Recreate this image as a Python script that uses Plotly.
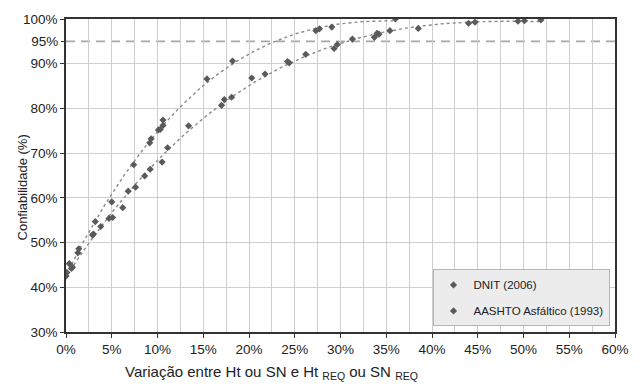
import numpy as np
import plotly.graph_objects as go

# ---- data ----
dnit_x = [0.0, 0.36, 1.4, 3.2, 5.0, 7.4, 9.15, 9.3, 10.1, 10.3, 10.6, 10.6,
          15.4, 18.2, 27.3, 27.7, 29.05, 36.0]
dnit_y = [42.5, 45.3, 48.6, 54.7, 59.1, 67.4, 72.3, 73.2, 75.2, 75.3, 76.2, 77.4,
          86.6, 90.6, 97.4, 97.8, 98.2, 100.0]

aashto_x = [0.1, 0.6, 0.7, 1.3, 2.9, 3.0, 3.8, 4.7, 5.1, 6.2, 6.8, 7.6, 8.6, 9.2,
            10.5, 11.1, 13.4, 17.0, 17.3, 18.1, 20.3, 21.75, 24.2, 24.4, 26.2,
            29.3, 29.65, 31.3, 33.7, 34.0, 34.2, 35.4, 38.5, 44.0, 44.7, 49.4,
            50.1, 51.9]
aashto_y = [43.3, 44.2, 44.5, 47.7, 51.7, 51.9, 53.6, 55.4, 55.6, 57.8, 61.5, 62.4,
            64.9, 66.4, 68.0, 71.2, 76.1, 80.7, 82.0, 82.5, 86.8, 87.7, 90.5, 90.2,
            92.1, 93.4, 94.3, 95.5, 95.9, 96.8, 96.6, 97.4, 97.9, 99.05, 99.3,
            99.5, 99.6, 99.8]

series_names = ["DNIT (2006)", "AASHTO Asfáltico (1993)"]
threshold = 95
y_ticks = [30, 40, 50, 60, 70, 80, 90, 100]
x_ticks = list(range(0, 61, 5))

# ---- style ----
FONT = "Liberation Sans, Arial, sans-serif"
marker_col = "#5a5a5a"
trend_col = "#8a8a8a"
grid_col = "#cfcfcf"
axis_col = "#333333"

fig = go.Figure()


def trend(xs, ys, deg):
    c = np.polyfit(xs, ys, deg)
    xx = np.linspace(min(xs), max(xs), 200)
    return xx, np.polyval(c, xx)


for xs, ys in [(dnit_x, dnit_y), (aashto_x, aashto_y)]:
    tx, ty = trend(xs, ys, 3)
    fig.add_trace(go.Scatter(x=tx, y=ty, mode="lines", showlegend=False,
                             hoverinfo="skip",
                             line=dict(color=trend_col, width=1.4, dash="dot")))

for i, (xs, ys) in enumerate([(dnit_x, dnit_y), (aashto_x, aashto_y)]):
    fig.add_trace(go.Scatter(x=xs, y=ys, mode="markers", name=series_names[i],
                             legendgroup=str(i),
                             marker=dict(symbol="diamond", size=5.5, color=marker_col)))

fig.add_shape(type="line", xref="paper", x0=0, x1=1, yref="y", y0=threshold, y1=threshold,
              line=dict(color="#a8a8a8", width=1.6, dash="9px,6px"), layer="below")

fig.update_layout(
    width=641, height=384,
    margin=dict(l=66, r=24, t=14, b=52),
    paper_bgcolor="white", plot_bgcolor="white",
    font=dict(family=FONT, size=13, color="#222"),
    xaxis=dict(range=[0, 60], tickvals=x_ticks, ticktext=[f"{v}%" for v in x_ticks],
               showline=True, linecolor=axis_col, linewidth=1.5, mirror=True,
               ticks="outside", ticklen=4, tickcolor=axis_col,
               showgrid=True, gridcolor=grid_col, gridwidth=1,
               minor=dict(dtick=2.5, showgrid=True, gridcolor=grid_col, gridwidth=1),
               zeroline=False, tickfont=dict(size=13.5)),
    yaxis=dict(range=[30, 100], tickvals=y_ticks, ticktext=[f"{v}%" for v in y_ticks],
               showline=True, linecolor=axis_col, linewidth=1.5, mirror=True,
               ticks="outside", ticklen=4, tickcolor=axis_col,
               showgrid=True, gridcolor=grid_col, gridwidth=1,
               zeroline=False, tickfont=dict(size=13.5)),
    yaxis2=dict(range=[30, 100], overlaying="y", side="left", tickvals=[threshold],
                ticktext=[f"{threshold}%"], showgrid=False, showline=False,
                ticks="outside", ticklen=4, tickcolor=axis_col,
                zeroline=False, tickfont=dict(size=13.5)),
    legend=dict(x=0.99, y=0.2, xanchor="right", yanchor="top",
                bgcolor="#ececec", bordercolor="#b5b5b5", borderwidth=1,
                font=dict(size=11.5, family=FONT), tracegroupgap=7,
                traceorder="grouped"),
    showlegend=True,
)

# helper trace so the 95% axis is drawn
fig.add_trace(go.Scatter(x=[None], y=[None], yaxis="y2", showlegend=False, hoverinfo="skip"))

fig.add_annotation(text="Variação entre Ht ou SN e Ht <sub>REQ</sub> ou SN <sub>REQ</sub>",
                   xref="paper", yref="paper", x=0.374, y=-0.13,
                   xanchor="center", yanchor="middle", showarrow=False,
                   font=dict(size=15, family=FONT, color="#222"))
fig.add_annotation(text="Confiabilidade (%)", textangle=-90,
                   xref="paper", yref="paper", x=-0.08, y=0.462,
                   xanchor="center", yanchor="middle", showarrow=False,
                   font=dict(size=13, family=FONT, color="#222"))

fig.write_html("out.html")
